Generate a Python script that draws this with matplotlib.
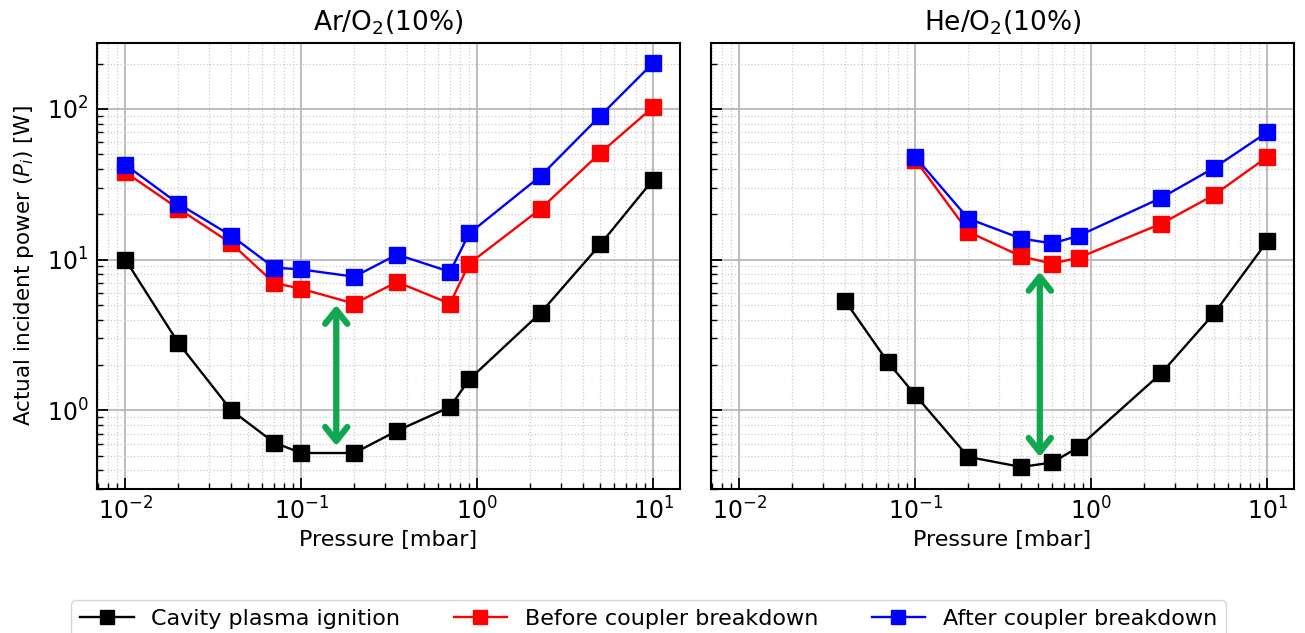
import matplotlib
matplotlib.use("Agg")
import matplotlib.pyplot as plt

# ---- data ----
ar_p_black = [0.01, 0.02, 0.04, 0.07, 0.1, 0.2, 0.35, 0.7, 0.9, 2.3, 5, 10]
ar_black = [10, 2.8, 1.0, 0.61, 0.52, 0.52, 0.73, 1.05, 1.6, 4.45, 12.6, 34]
ar_p_red = [0.01, 0.02, 0.04, 0.07, 0.1, 0.2, 0.35, 0.7, 0.9, 2.3, 5, 10]
ar_red = [38, 21.8, 12.8, 7.0, 6.4, 5.1, 7.1, 5.1, 9.4, 21.8, 51, 103]
ar_p_blue = [0.01, 0.02, 0.04, 0.07, 0.1, 0.2, 0.35, 0.7, 0.9, 2.3, 5, 10]
ar_blue = [42.6, 23.5, 14.4, 8.85, 8.6, 7.7, 10.8, 8.3, 14.9, 36, 90, 202]

he_p_black = [0.04, 0.07, 0.1, 0.2, 0.4, 0.6, 0.85, 2.5, 5, 10]
he_black = [5.3, 2.08, 1.26, 0.49, 0.42, 0.45, 0.57, 1.76, 4.4, 13.2]
he_p_red = [0.1, 0.2, 0.4, 0.6, 0.85, 2.5, 5, 10]
he_red = [46, 15.3, 10.5, 9.4, 10.3, 17.3, 26.9, 48]
he_p_blue = [0.1, 0.2, 0.4, 0.6, 0.85, 2.5, 5, 10]
he_blue = [48, 18.7, 13.8, 12.8, 14.4, 25.7, 40.7, 70]

ar_arrow = (0.158, 5.0, 0.58)   # x, top, bottom
he_arrow = (0.51, 8.3, 0.49)

titles = ["Ar/O$_2$(10%)", "He/O$_2$(10%)"]
labels = ["Cavity plasma ignition", "Before coupler breakdown", "After coupler breakdown"]

plt.rcParams['font.family'] = ['DejaVu Sans']

fig = plt.figure(figsize=(13.05, 6.33), dpi=100)
W, H = 1305, 633
ax1 = fig.add_axes([97 / W, 1 - 489 / H, (680 - 97) / W, (489 - 43) / H])
ax2 = fig.add_axes([711 / W, 1 - 489 / H, (1294 - 711) / W, (489 - 43) / H])

datasets = [
    (ax1, ar_p_black, ar_black, ar_p_red, ar_red, ar_p_blue, ar_blue, ar_arrow),
    (ax2, he_p_black, he_black, he_p_red, he_red, he_p_blue, he_blue, he_arrow),
]

green = '#0fa84e'
handles = None
for i, (ax, pb, b, pr, r, pbl, bl, arr) in enumerate(datasets):
    ms = 11.5
    h1, = ax.plot(pb, b, '-s', color='black', lw=1.7, ms=ms, label=labels[0], zorder=3)
    h2, = ax.plot(pr, r, '-s', color='red', lw=1.7, ms=ms, label=labels[1], zorder=3)
    h3, = ax.plot(pbl, bl, '-s', color='blue', lw=1.7, ms=ms, label=labels[2], zorder=4)
    if handles is None:
        handles = [h1, h2, h3]
    ax.set_xscale('log')
    ax.set_yscale('log')
    ax.set_xlim(0.0069, 14.2)
    ax.set_ylim(0.30, 274)
    ax.grid(True, which='major', color='#b8b8b8', lw=1.3, ls='-')
    ax.grid(True, which='minor', color='#cccccc', lw=0.9, ls=':')
    ax.set_axisbelow(True)
    ax.tick_params(which='major', direction='in', length=8, width=1.3, labelsize=17,
                   top=False, right=False, pad=6)
    ax.tick_params(which='minor', direction='in', length=4, width=1.0,
                   top=False, right=False)
    for s in ax.spines.values():
        s.set_linewidth(1.5)
    ax.set_title(titles[i], fontsize=19, pad=9)
    ax.set_xlabel("Pressure [mbar]", fontsize=16, labelpad=4)
    x, yt, yb = arr
    ax.annotate('', xy=(x, yt), xytext=(x, yb),
                arrowprops=dict(arrowstyle='<->,head_length=1.0,head_width=0.8',
                                color=green, lw=4.5, capstyle='round',
                                joinstyle='round', shrinkA=0, shrinkB=0),
                zorder=5)

ax1.set_ylabel("Actual incident power ($P_i$) [W]", fontsize=15.5, labelpad=8)
ax2.tick_params(which='both', labelleft=False)

fig.legend(handles=handles, labels=labels, loc='upper center',
           bbox_to_anchor=(0.497, 1 - 589 / H), ncol=3, fontsize=16,
           frameon=True, edgecolor='#cccccc', fancybox=True,
           handlelength=2.4, columnspacing=2.4, markerscale=0.9)

fig.savefig("out.png", dpi=100)
